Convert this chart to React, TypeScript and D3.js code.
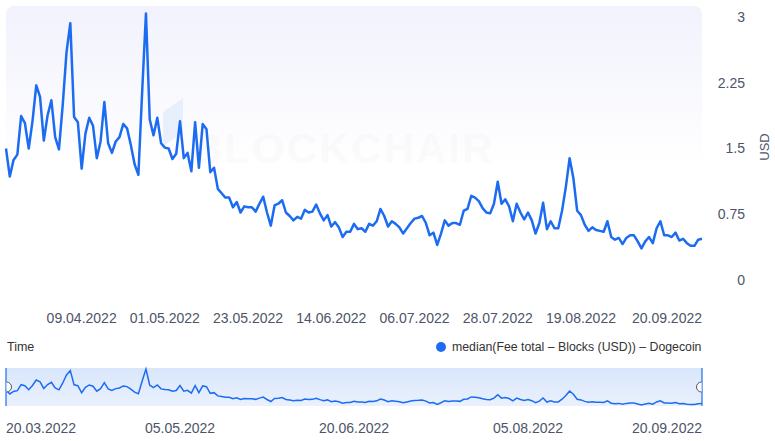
import React from 'react';
import * as d3 from 'd3';

const width = 775,
  height = 441;

const startDay = '20.03.2022';
const endDay = '20.09.2022';

// median fee per day, USD (one value per day from startDay)
const feeValues = [
  1.50, 1.18, 1.37, 1.43, 1.87, 1.79, 1.50, 1.81, 2.22, 2.09,
  1.59, 1.88, 2.05, 1.63, 1.49, 2.00, 2.60, 2.93, 1.86, 1.80,
  1.27, 1.67, 1.85, 1.76, 1.39, 1.58, 2.03, 1.56, 1.45, 1.58,
  1.63, 1.78, 1.73, 1.54, 1.32, 1.20, 2.15, 3.04, 1.83, 1.65,
  1.85, 1.56, 1.51, 1.50, 1.38, 1.44, 1.81, 1.39, 1.45, 1.24,
  1.80, 1.28, 1.78, 1.72, 1.23, 1.28, 1.04, 0.99, 0.94, 0.94,
  0.83, 0.89, 0.77, 0.84, 0.83, 0.83, 0.78, 0.87, 0.95, 0.77,
  0.62, 0.85, 0.87, 0.91, 0.77, 0.73, 0.68, 0.72, 0.70, 0.80,
  0.77, 0.78, 0.86, 0.76, 0.68, 0.74, 0.61, 0.66, 0.60, 0.49,
  0.55, 0.55, 0.64, 0.58, 0.59, 0.55, 0.64, 0.62, 0.67, 0.81,
  0.73, 0.61, 0.67, 0.64, 0.60, 0.53, 0.59, 0.65, 0.70, 0.71,
  0.73, 0.65, 0.51, 0.54, 0.40, 0.53, 0.68, 0.62, 0.65, 0.65,
  0.63, 0.79, 0.81, 0.96, 0.94, 0.90, 0.82, 0.77, 0.76, 0.87,
  1.12, 0.87, 0.92, 0.84, 0.67, 0.87, 0.77, 0.69, 0.77, 0.68,
  0.53, 0.65, 0.88, 0.58, 0.67, 0.59, 0.59, 0.79, 1.06, 1.39,
  1.16, 0.79, 0.74, 0.63, 0.56, 0.60, 0.57, 0.56, 0.55, 0.67,
  0.49, 0.46, 0.48, 0.41, 0.48, 0.51, 0.51, 0.44, 0.36, 0.44,
  0.49, 0.42, 0.59, 0.67, 0.51, 0.51, 0.49, 0.54, 0.45, 0.47,
  0.42, 0.39, 0.39, 0.46, 0.47,
];

const yTicks = [0, 0.75, 1.5, 2.25, 3];
const mainTickLabels = ['09.04.2022', '01.05.2022', '23.05.2022', '14.06.2022', '06.07.2022', '28.07.2022', '19.08.2022'];
const navTickLabels = ['05.05.2022', '20.06.2022', '05.08.2022'];

const seriesName = 'median(Fee total – Blocks (USD)) – Dogecoin';

const parse = d3.utcParse('%d.%m.%Y');
const fmt = d3.utcFormat('%d.%m.%Y');

const BLUE = '#1c6cf2';
const AXIS = '#4d5468';
const FONT = '"Liberation Sans", Arial, sans-serif';

export default function App() {
  const start = parse(startDay) as Date;
  const end = parse(endDay) as Date;
  const data = feeValues.map((v, i) => ({ date: d3.utcDay.offset(start, i), value: v }));

  const left = 6,
    right = 702;

  const x = d3.scaleUtc().domain([start, end]).range([left, right]);
  const y = d3.scaleLinear().domain([0, 3]).range([280, 17]);

  const line = d3
    .line<{ date: Date; value: number }>()
    .x((d) => x(d.date))
    .y((d) => y(d.value));

  const navTop = 368,
    navBottom = 406;
  const yNav = d3
    .scaleLinear()
    .domain(d3.extent(feeValues) as [number, number])
    .range([navBottom - 1, navTop + 1]);
  const navLine = d3
    .line<{ date: Date; value: number }>()
    .x((d) => x(d.date))
    .y((d) => yNav(d.value));

  const handle = (cx: number, dir: number) =>
    `M${cx},${387 - 5} A5,5 0 0 ${dir > 0 ? 1 : 0} ${cx},${387 + 5}`;

  return (
    <svg
      width={width}
      height={height}
      style={{ position: 'absolute', left: 0, top: 0, fontFamily: FONT }}
    >
      <defs>
        <linearGradient id="plotBg" x1="0" y1="0" x2="0" y2="1">
          <stop offset="0" stopColor="#f1f2fc" />
          <stop offset="0.55" stopColor="#ffffff" />
          <stop offset="1" stopColor="#ffffff" />
        </linearGradient>
        <linearGradient id="navBg" x1="0" y1="0" x2="0" y2="1">
          <stop offset="0" stopColor="#d9e6fb" />
          <stop offset="1" stopColor="#eaf1fd" />
        </linearGradient>
      </defs>

      <rect x={left} y={6} width={right - left} height={290} rx={8} fill="url(#plotBg)" />

      {/* watermark */}
      <polygon points="163,112 183,98 183,133 163,146" fill="#e3ecfb" opacity={0.8} />
      <text x={192} y={163} fontSize={42} fontWeight="bold" fill="#000" opacity={0.012} letterSpacing={2}>
        BLOCKCHAIR
      </text>

      {yTicks.map((t) => (
        <text key={t} x={745} y={y(t)} dy="0.35em" textAnchor="end" fontSize={14} fill={AXIS}>
          {t}
        </text>
      ))}
      <text
        transform={`translate(769,147) rotate(-90)`}
        textAnchor="middle"
        fontSize={13}
        fill={AXIS}
      >
        USD
      </text>

      <path d={line(data) || ''} fill="none" stroke={BLUE} strokeWidth={2.5} strokeLinejoin="round" />

      {mainTickLabels.map((s) => (
        <text key={s} x={x(parse(s) as Date)} y={323} textAnchor="middle" fontSize={14} fill={AXIS}>
          {s}
        </text>
      ))}
      <text x={right} y={323} textAnchor="end" fontSize={14} fill={AXIS}>
        {fmt(end)}
      </text>

      <text x={7} y={351} fontSize={12.5} fill="#333">
        Time
      </text>
      <circle cx={441} cy={347} r={5} fill={BLUE} />
      <text x={452} y={351} fontSize={12.3} fill="#333">
        {seriesName}
      </text>

      {/* navigator */}
      <rect x={left} y={navTop} width={right - left} height={navBottom - navTop} fill="url(#navBg)" />
      <path d={navLine(data) || ''} fill="none" stroke={BLUE} strokeWidth={1.5} />
      <line x1={left} x2={left} y1={navTop} y2={navBottom} stroke={BLUE} strokeWidth={1.2} />
      <line x1={right} x2={right} y1={navTop} y2={navBottom} stroke={BLUE} strokeWidth={1.2} />
      <path d={handle(left + 0.5, 1)} fill="#fff" stroke="#555" strokeWidth={1} />
      <path d={handle(right - 0.5, -1)} fill="#fff" stroke="#555" strokeWidth={1} />

      <text x={left} y={433} textAnchor="start" fontSize={14} fill={AXIS}>
        {fmt(start)}
      </text>
      {navTickLabels.map((s) => (
        <text key={s} x={x(parse(s) as Date)} y={433} textAnchor="middle" fontSize={14} fill={AXIS}>
          {s}
        </text>
      ))}
      <text x={right} y={433} textAnchor="end" fontSize={14} fill={AXIS}>
        {fmt(end)}
      </text>
    </svg>
  );
}
